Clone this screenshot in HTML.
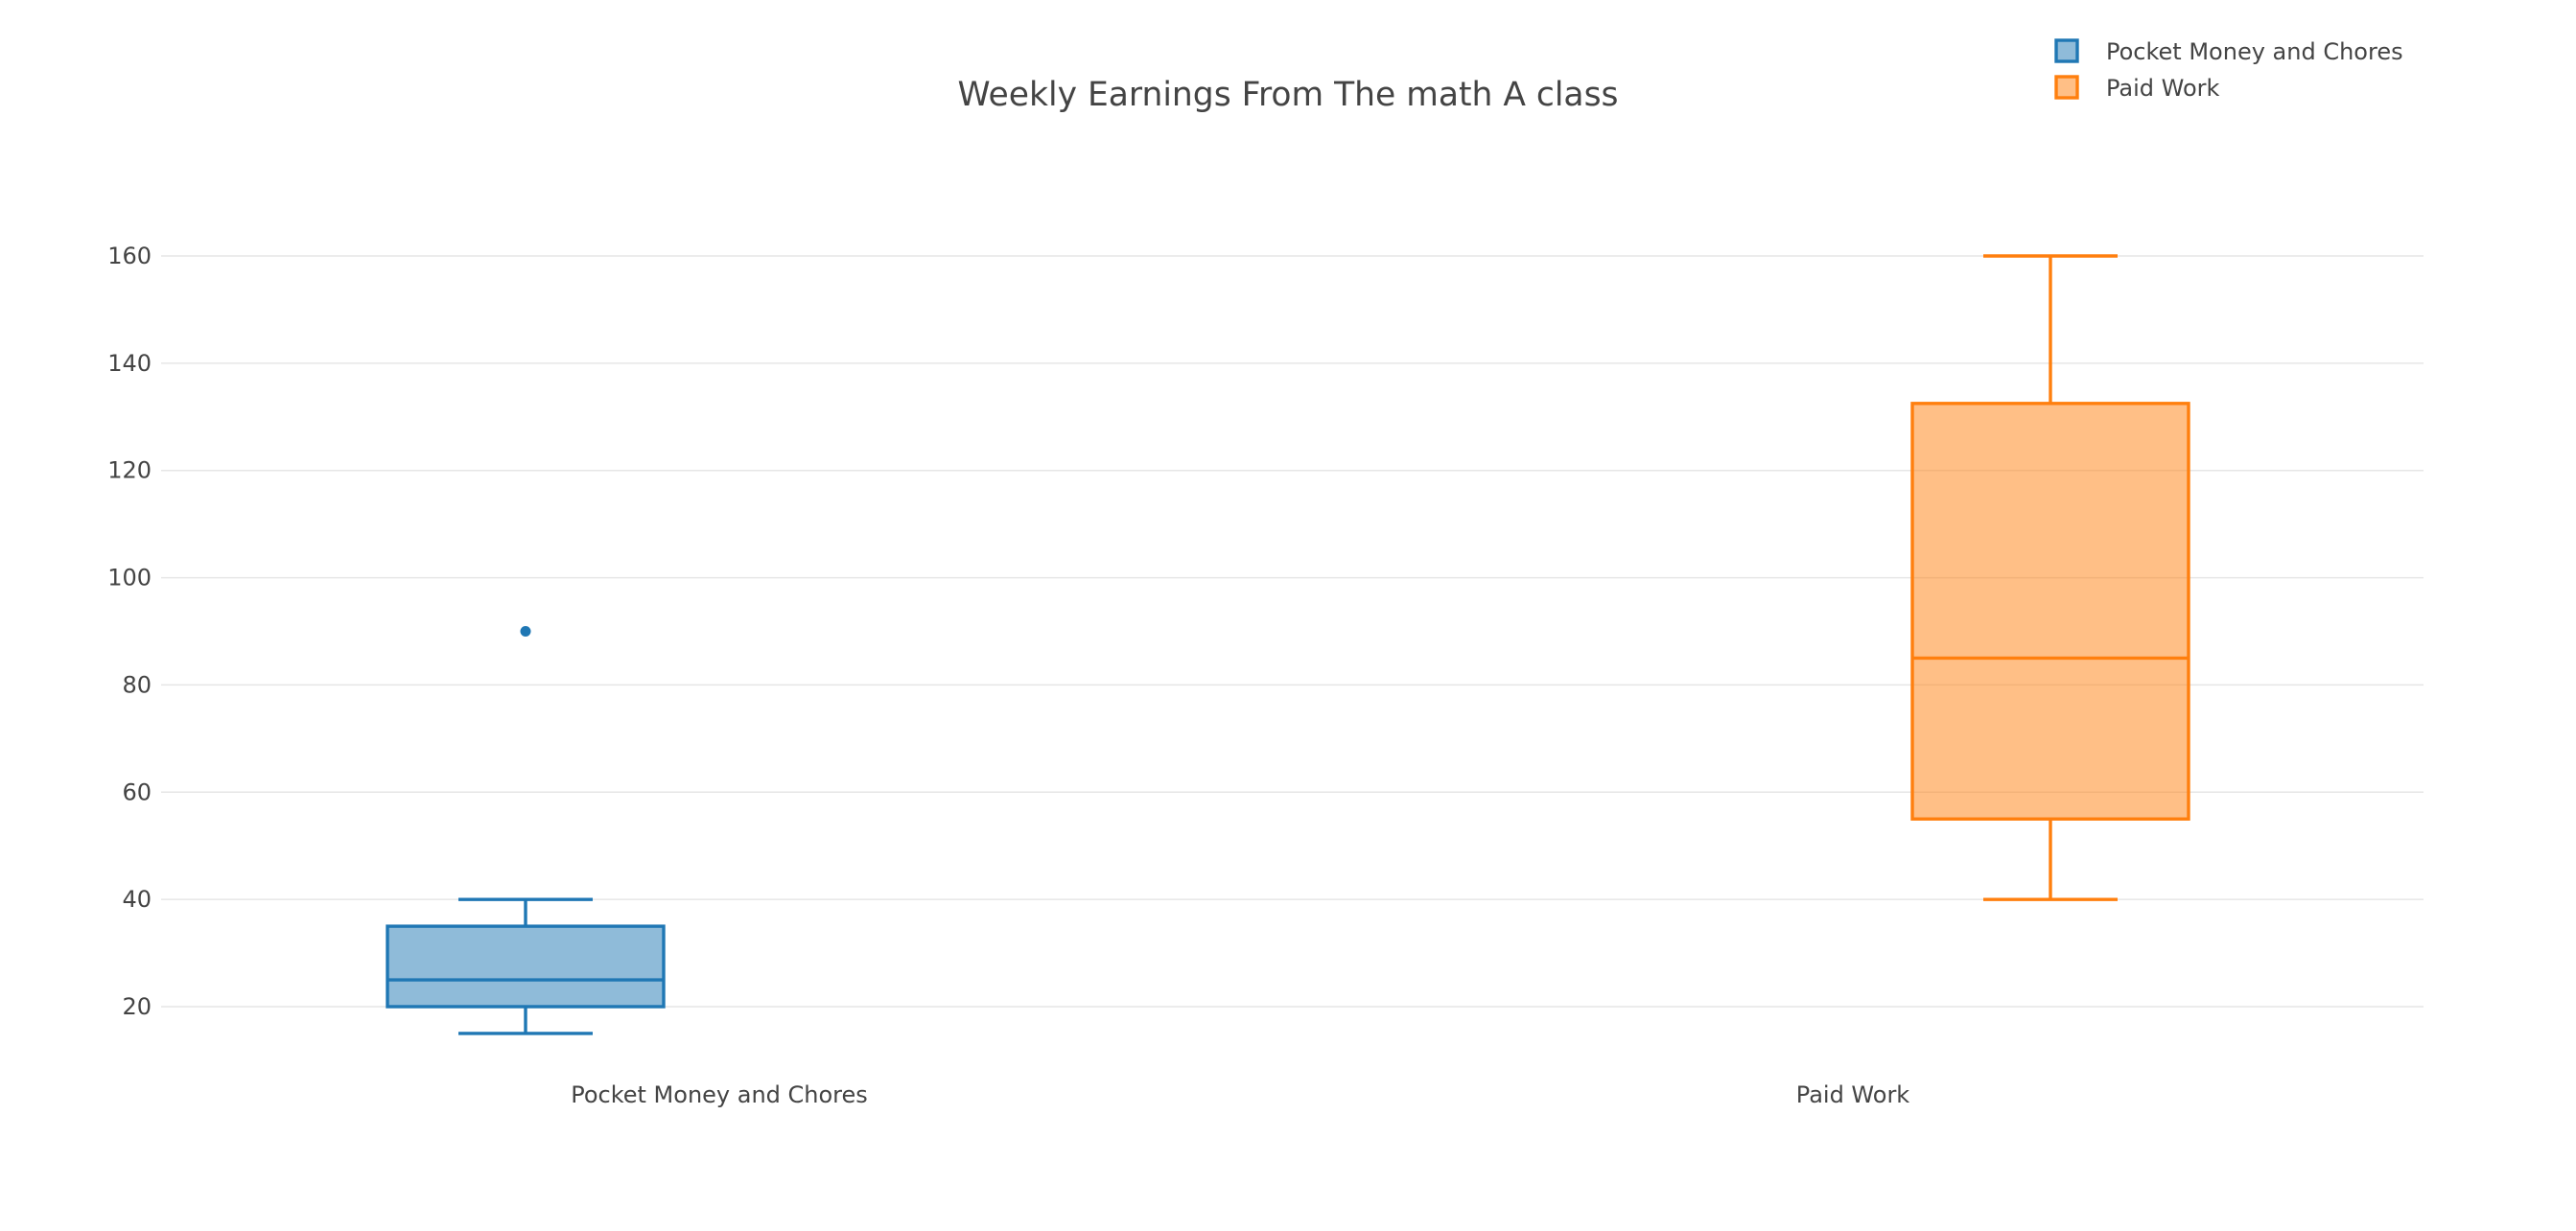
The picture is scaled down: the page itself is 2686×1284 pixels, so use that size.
<!DOCTYPE html>
<html><head><meta charset="utf-8"><style>
html,body{margin:0;padding:0;background:#fff;}
svg{display:block;font-family:"DejaVu Sans","Liberation Sans",sans-serif;}
</style></head><body>
<svg id="chart" width="2686" height="1284" viewBox="0 0 2686 1284">
<text x="1343" y="110" text-anchor="middle" font-size="34.5" fill="#444">Weekly Earnings From The math A class</text>
<g id="grid"></g>
<g id="yticks"></g>
<g id="boxes"></g>
<g id="xlabels"></g>
<g>
 <g>
  <rect x="2144" y="42" width="22" height="22" fill="rgba(31,119,180,0.5)" stroke="#1f77b4" stroke-width="3.4"/>
  <text x="2196" y="62" font-size="24" fill="#444">Pocket Money and Chores</text>
 </g>
 <g>
  <rect x="2144" y="80" width="22" height="22" fill="rgba(255,127,14,0.5)" stroke="#ff7f0e" stroke-width="3.4"/>
  <text x="2196" y="100" font-size="24" fill="#444">Paid Work</text>
 </g>
</g>
</svg>
<script>
const categories = ["Pocket Money and Chores", "Paid Work"];
const mins = [15, 40];
const q1s = [20, 55];
const medians = [25, 85];
const q3s = [35, 132.5];
const maxs = [40, 160];
const outliers = [[90], []];
const yTicks = [20, 40, 60, 80, 100, 120, 140, 160];

const NS = "http://www.w3.org/2000/svg";
const plotL = 168, plotR = 2527;
const y = v => 1050 - (v - 20) * (1050 - 267) / 140;
const boxCenters = [548, 2138];
const labelCenters = [750, 1932];
const colors = ["#1f77b4", "#ff7f0e"];
const fills = ["rgba(31,119,180,0.5)", "rgba(255,127,14,0.5)"];
const boxHalf = 144, capHalf = 70;

function mk(tag, attrs, parent) {
  const e = document.createElementNS(NS, tag);
  for (const k in attrs) e.setAttribute(k, attrs[k]);
  parent.appendChild(e);
  return e;
}
const grid = document.getElementById("grid");
const yt = document.getElementById("yticks");
yTicks.forEach(t => {
  const l = mk("line", {x1: plotL, x2: plotR, y1: y(t), y2: y(t), stroke: "#e6e6e6", "stroke-width": 1.5}, grid);
  
  
  const tx = mk("text", {x: 158, y: y(t) + 8, "text-anchor": "end", "font-size": 24, fill: "#444"}, yt);
  tx.textContent = t;
  
  
});
const boxes = document.getElementById("boxes");
categories.forEach((c, i) => {
  const g = mk("g", {}, boxes);
  
  
  const cx = boxCenters[i], col = colors[i], sw = 3.4;
  mk("line", {x1: cx, x2: cx, y1: y(maxs[i]), y2: y(q3s[i]), stroke: col, "stroke-width": sw}, g);
  mk("line", {x1: cx, x2: cx, y1: y(q1s[i]), y2: y(mins[i]), stroke: col, "stroke-width": sw}, g);
  mk("line", {x1: cx - capHalf, x2: cx + capHalf, y1: y(maxs[i]), y2: y(maxs[i]), stroke: col, "stroke-width": sw}, g);
  mk("line", {x1: cx - capHalf, x2: cx + capHalf, y1: y(mins[i]), y2: y(mins[i]), stroke: col, "stroke-width": sw}, g);
  mk("rect", {x: cx - boxHalf, y: y(q3s[i]), width: boxHalf * 2, height: y(q1s[i]) - y(q3s[i]), fill: fills[i], stroke: col, "stroke-width": sw}, g);
  mk("line", {x1: cx - boxHalf, x2: cx + boxHalf, y1: y(medians[i]), y2: y(medians[i]), stroke: col, "stroke-width": sw}, g);
  outliers[i].forEach(o => {
    const p = mk("circle", {cx: cx, cy: y(o), r: 5.5, fill: col}, g);
    
    
  });
  const xl = document.getElementById("xlabels");
  const t = mk("text", {x: labelCenters[i], y: 1150, "text-anchor": "middle", "font-size": 24, fill: "#444"}, xl);
  t.textContent = c;
  
  
});
</script>
</body></html>
